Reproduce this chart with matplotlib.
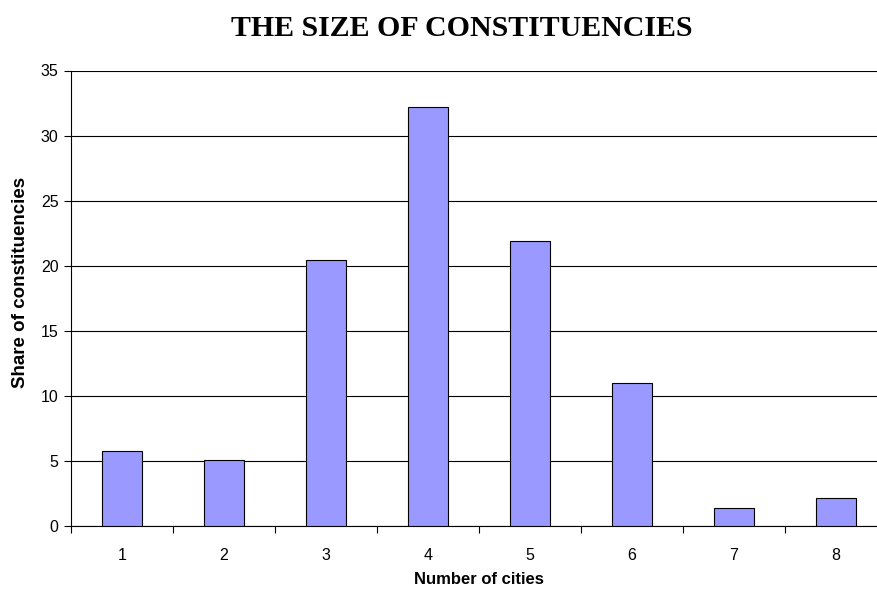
import matplotlib.pyplot as plt
import numpy as np

# Share of constituencies by number of cities
cities = ['1', '2', '3', '4', '5', '6', '7', '8']
share = [5.8, 5.1, 20.45, 32.2, 21.9, 11.0, 1.4, 2.15]

plt.rcParams['font.family'] = ['Liberation Sans', 'DejaVu Sans']

fig = plt.figure(figsize=(8.77, 5.96), dpi=100)
ax = fig.add_axes([71 / 877, 70 / 596, 816 / 877, 455.5 / 596])

x = np.arange(len(cities))
ax.bar(x, share, width=0.4, color='#9999FF', edgecolor='black', linewidth=0.8, zorder=3)

ax.set_xlim(-0.5, len(cities) - 0.5)
ax.set_ylim(0, 35)
ax.set_yticks(np.arange(0, 36, 5))
ax.yaxis.grid(True, color='black', linewidth=0.8)
ax.set_axisbelow(True)

# category labels centred, tick marks at the category boundaries
ax.set_xticks(x)
ax.set_xticklabels(cities, fontsize=11.5)
ax.set_xticks(np.arange(-0.5, len(cities)), minor=True)
ax.tick_params(axis='x', which='major', length=0, pad=15.5)
ax.tick_params(axis='x', which='minor', length=5, width=0.8, direction='out')
ax.tick_params(axis='y', length=5, width=0.8, labelsize=11.5, pad=4)

for side in ['top', 'right']:
    ax.spines[side].set_visible(False)
ax.spines['left'].set_linewidth(0.8)
ax.spines['bottom'].set_linewidth(0.8)

ax.set_xlabel('Number of cities', fontsize=12, fontweight='bold')
ax.xaxis.set_label_coords(0.5, -0.1)
ax.set_ylabel('Share of constituencies', fontsize=13.5, fontweight='bold')
ax.yaxis.set_label_coords(-0.052, 0.535)

fig.text(462 / 877, 1 - 28 / 596, 'THE SIZE OF CONSTITUENCIES', ha='center', va='center',
         fontsize=21.5, fontweight='bold', family='Liberation Serif')

fig.savefig('out.png', dpi=100)
